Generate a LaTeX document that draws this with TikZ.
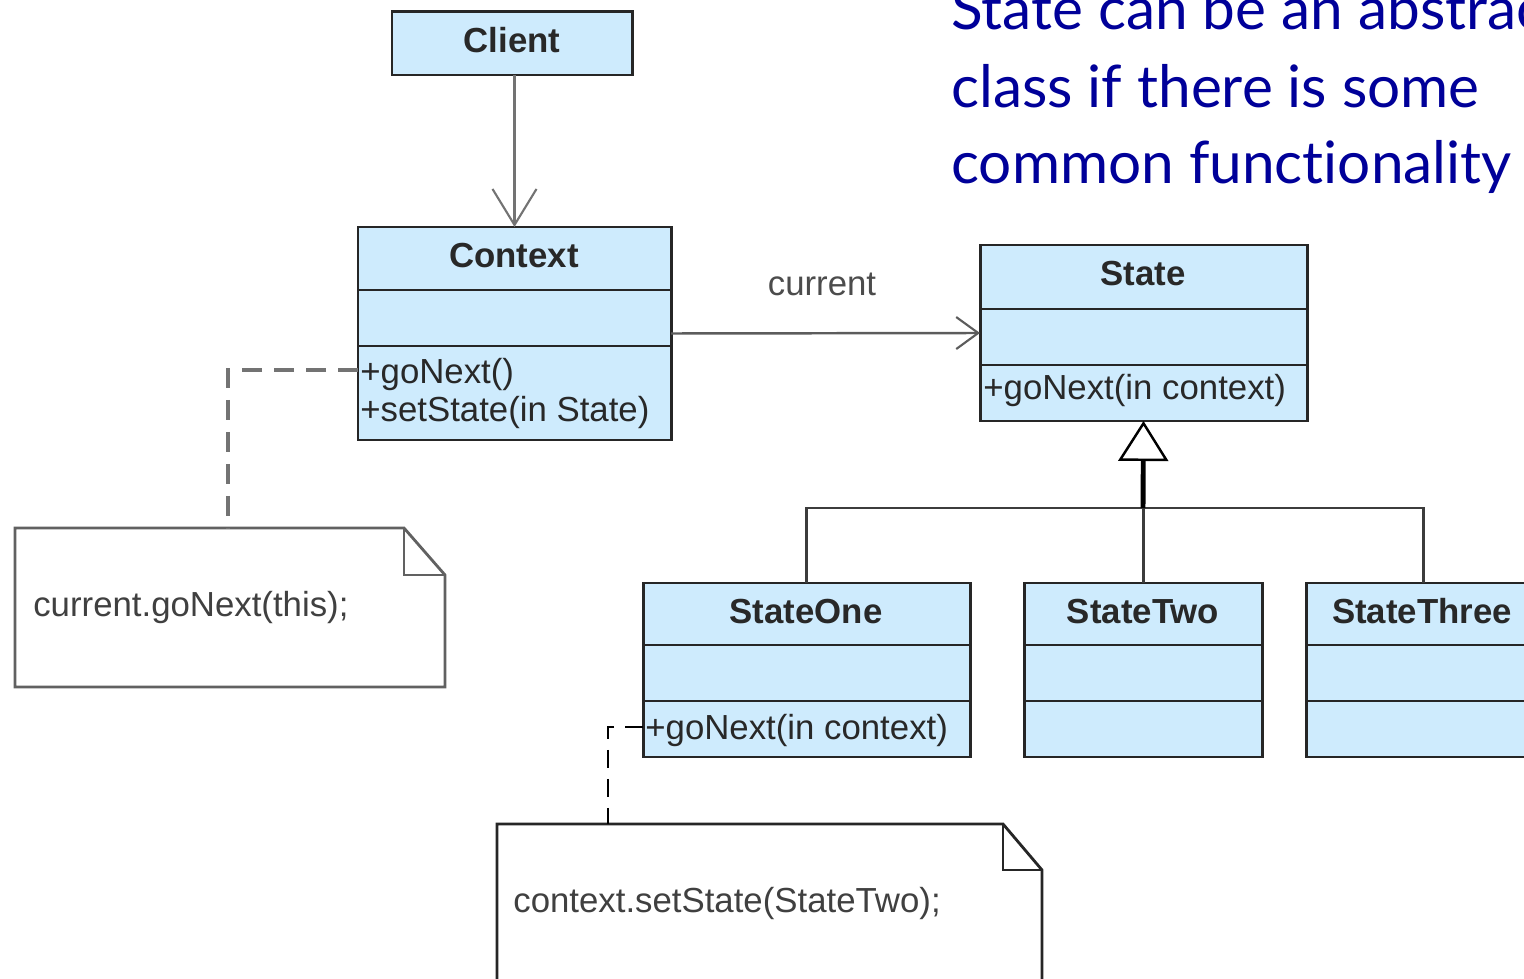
\documentclass[tikz,border=0pt]{standalone}
\usepackage{fontspec}
\setmainfont{Liberation Sans}
\newfontfamily\gillfont[Ligatures=NoCommon]{Lato}
\usetikzlibrary{arrows.meta,fit,calc}
\definecolor{boxfill}{RGB}{206,235,253}
\definecolor{boxline}{RGB}{38,38,38}
\definecolor{txt}{RGB}{40,40,40}
\definecolor{conn}{RGB}{115,115,115}
\definecolor{slideblue}{RGB}{0,0,153}
\tikzset{
  umlbox/.style={draw=boxline, fill=boxfill, line width=1.7pt, inner sep=0pt, outer sep=0pt},
  divider/.style={draw=boxline, line width=1.6pt},
  cname/.style={font=\fontsize{19.8}{24}\selectfont\bfseries, text=txt, anchor=base, inner sep=0pt},
  member/.style={font=\fontsize{19.8}{24}\selectfont, text=txt, anchor=base west, inner sep=0pt},
  notearea/.style={inner sep=0pt, outer sep=0pt},
  noteline/.style={line width=1.6pt, fill=white},
  assoc/.style={draw=conn, line width=2.2pt, -{Straight Barb[length=0.72cm, width=0.88cm, line width=1.2pt]}},
  current/.style={draw=conn!80!black, line width=1.4pt, -{Straight Barb[length=0.44cm, width=0.64cm, line width=1.2pt]}},
  genline/.style={draw=boxline!90!white, line width=1.7pt},
  genstem/.style={draw=black, line width=2.8pt, -{Triangle[open, length=0.8cm, width=1.0cm, line width=1.4pt]}},
  bluetext/.style={font=\gillfont\fontsize{33.3}{40}\selectfont, text=slideblue, anchor=base west, inner sep=0pt},
}
\begin{document}
\begin{tikzpicture}[x=0.02cm, y=-0.02cm]
\useasboundingbox (0,0) rectangle (1524,979);
\clip (0,0) rectangle (1524,979);

% ---- explanatory text
\node[bluetext] (t1) at (951,30) {State can be an abstract};
\node[bluetext] (t2) at (951,108) {class if there is some};
\node[bluetext] (t3) at (951,184) {common functionality};

% ---- Client
\node[umlbox, fit={(392,12) (632,75)}] (client) {};
\node[cname] (clientname) at (512,53) {Client};

% ---- Context
\node[umlbox, fit={(358,227) (671,440)}] (context) {};
\draw[divider] (358,290) -- (671,290);
\draw[divider] (358,346) -- (671,346);
\node[cname] (contextname) at (514,268) {Context};
\node[member] (ctxm1) at (360,384) {+goNext()};
\node[member] (ctxm2) at (360,422) {+setState(in State)};

% ---- State
\node[umlbox, fit={(980,245) (1307,421)}] (state) {};
\draw[divider] (980,309) -- (1307,309);
\draw[divider] (980,365) -- (1307,365);
\node[cname] (statename) at (1143,286) {State};
\node[member] (statem1) at (983,400) {+goNext(in context)};

% ---- StateOne
\node[umlbox, fit={(643,583) (970,757)}] (stateone) {};
\draw[divider] (643,645) -- (970,645);
\draw[divider] (643,701) -- (970,701);
\node[cname] (stateonename) at (806,623) {StateOne};
\node[member] (stateonem1) at (645,739) {+goNext(in context)};

% ---- StateTwo
\node[umlbox, fit={(1024,583) (1262,757)}] (statetwo) {};
\draw[divider] (1024,645) -- (1262,645);
\draw[divider] (1024,701) -- (1262,701);
\node[cname] (statetwoname) at (1143,623) {StateTwo};

% ---- StateThree
\node[umlbox, fit={(1306,583) (1540,757)}] (statethree) {};
\draw[divider] (1306,645) -- (1540,645);
\draw[divider] (1306,701) -- (1540,701);
\node[cname] (statethreename) at (1422,623) {StateThree};

% ---- Notes
\node[notearea, fit={(15,528) (445,687)}] (note1) {};
\draw[noteline, draw=black!62] (note1.south west) -- (note1.north west) -- ($(note1.north east)+(-41,0)$) -- ($(note1.north east)+(0,47)$) -- (note1.south east) -- cycle;
\draw[line width=1.4pt, draw=black!62] ($(note1.north east)+(-41,0)$) |- ($(note1.north east)+(0,47)$);
\node[member, text=black!75] (note1text) at (33,616) {current.goNext(this);};

\node[notearea, fit={(497,824) (1042,1010)}] (note2) {};
\draw[noteline, draw=black!85] (note2.south west) -- (note2.north west) -- ($(note2.north east)+(-39,0)$) -- ($(note2.north east)+(0,46)$) -- (note2.south east) -- cycle;
\draw[line width=1.4pt, draw=black!85] ($(note2.north east)+(-39,0)$) |- ($(note2.north east)+(0,46)$);
\node[member, text=black!75] (note2text) at (513,912) {context.setState(StateTwo);};

% ---- connectors
\draw[assoc] (client.south -| context.north) -- (context.north);
\draw[current] (context.east) -- (state.west);
\node[font=\fontsize{19.8}{24}\selectfont, text=black!70, anchor=base, inner sep=0pt] (curlabel) at (822,296) {current};

\coordinate (jn) at (1143,508);
\draw[genline] (stateone.north) |- (jn) -| (statethree.north);
\draw[genline] (statetwo.north) -- (jn);
\draw[genstem] (jn) -- (state.south);

\coordinate (goA) at (358,370);
\coordinate (noteA) at (228,528);
\draw[draw=conn, line width=2.6pt, dash pattern=on 0.4cm off 0.24cm] (goA) -| (noteA);

\coordinate (goB) at (643,727);
\coordinate (noteB) at (608,824);
\draw[draw=black, line width=1.6pt, dash pattern=on 0.36cm off 0.22cm] (goB) -| (noteB);
\end{tikzpicture}
\end{document}
